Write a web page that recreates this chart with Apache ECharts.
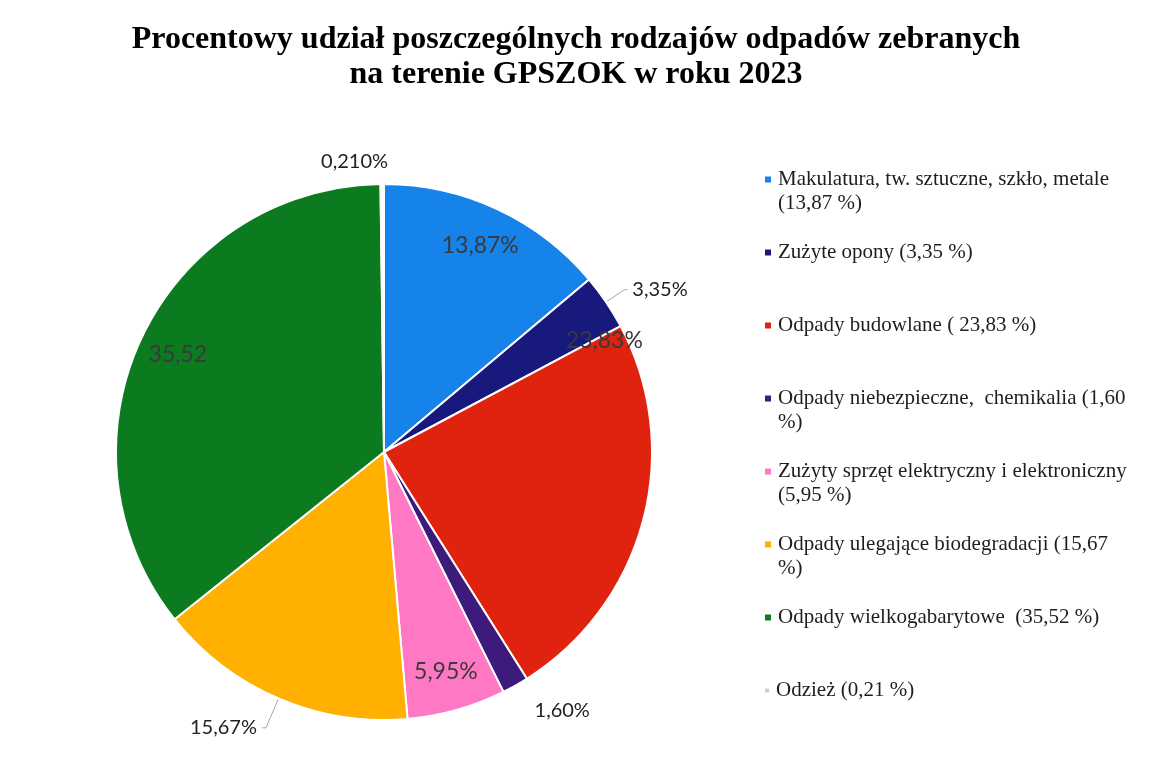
<!DOCTYPE html>
<html>
<head>
<meta charset="utf-8">
<script src="https://cdn.jsdelivr.net/npm/echarts@6/dist/echarts.min.js"></script>
<style>
  html, body { margin: 0; padding: 0; background: #fff; }
  #chart { width: 1152px; height: 768px; }
</style>
</head>
<body>
<div id="chart"></div>
<script>
var categories = [
    'Makulatura, tw. sztuczne, szkło, metale',
    'Zużyte opony',
    'Odpady budowlane',
    'Odpady niebezpieczne, chemikalia',
    'Zużyty sprzęt elektryczny i elektroniczny',
    'Odpady ulegające biodegradacji',
    'Odpady wielkogabarytowe',
    'Odzież'
];
var values = [13.87, 3.35, 23.83, 1.60, 5.95, 15.67, 35.52, 0.21];
// etykiety na wykresie (tak jak w oryginale)
var sliceLabels = ['13,87%', '3,35%', '23,83%', '1,60%', '5,95%', '15,67%', '35,52', '0,210%'];
// które etykiety są wewnątrz wycinka
var insideLabel = [true, false, true, false, true, false, true, false];
// opis w legendzie: pierwsza i druga linia
var legendLine1 = [
    'Makulatura, tw. sztuczne, szkło, metale',
    'Zużyte opony (3,35 %)',
    'Odpady budowlane ( 23,83 %)',
    'Odpady niebezpieczne,  chemikalia (1,60',
    'Zużyty sprzęt elektryczny i elektroniczny',
    'Odpady ulegające biodegradacji (15,67',
    'Odpady wielkogabarytowe  (35,52 %)',
    'Odzież (0,21 %)'
];
var legendLine2 = ['(13,87 %)', '', '', '%)', '(5,95 %)', '%)', '', ''];
var colors = ['#1583ea', '#18197c', '#df230f', '#3d1b7a', '#ff78c4', '#ffb000', '#0c7a1e', '#ffffff'];
var legendColors = ['#1583ea', '#18197c', '#df230f', '#3d1b7a', '#ff78c4', '#ffb000', '#0c7a1e', '#cfcfcf'];

var chart = echarts.init(document.getElementById('chart'));

var R = 268;
var center = [384, 452];

// dlugosci linii odniesienia dla etykiet zewnetrznych
var lineLen = { 1: [22, 3], 3: [29, 0], 5: [32, 4], 7: [22, 0] };
var lineShow = { 1: true, 3: false, 5: true, 7: false };

// dane głównego koła – etykiety zewnętrzne
var mainData = categories.map(function (name, i) {
    var item = {
        name: name,
        value: values[i],
        itemStyle: { color: colors[i] },
        label: { show: !insideLabel[i] },
        labelLine: { show: false }
    };
    if (lineLen[i]) {
        item.labelLine = { show: lineShow[i], length: lineLen[i][0], length2: lineLen[i][1] };
    }
    return item;
});

// przezroczysty pierścień tylko dla etykiet wewnętrznych
var ringData = categories.map(function (name, i) {
    return {
        name: name,
        value: values[i],
        label: { show: insideLabel[i] }
    };
});

var rich = {
    t: { fontFamily: 'Liberation Serif', fontSize: 21, color: '#1e1e1e', lineHeight: 24 },
    sp: { width: 7 },
    ind: { width: 13 }
};
legendColors.forEach(function (c, i) {
    rich['sq' + i] = { width: i === 7 ? 4 : 6, height: i === 7 ? 4 : 6, backgroundColor: c };
});

var option = {
    backgroundColor: '#ffffff',
    animation: false,
    title: {
        text: 'Procentowy udział poszczególnych rodzajów odpadów zebranych\nna terenie GPSZOK w roku 2023',
        left: 'center',
        top: 17,
        textStyle: {
            fontFamily: 'Liberation Serif',
            fontWeight: 'bold',
            fontSize: 32,
            lineHeight: 35,
            color: '#000'
        }
    },
    legend: {
        orient: 'vertical',
        left: 754,
        top: 164,
        itemWidth: 0,
        itemHeight: 0,
        itemGap: 28,
        selectedMode: false,
        data: categories,
        formatter: function (name) {
            var i = categories.indexOf(name);
            var txt = '{sq' + i + '| }{sp| }{t|' + legendLine1[i] + '}\n';
            txt += '{ind| }{t|' + (legendLine2[i] || ' ') + '}';
            return txt;
        },
        textStyle: { rich: rich }
    },
    series: [
        {
            type: 'pie',
            center: center,
            radius: [0, R],
            startAngle: 90,
            clockwise: true,
            avoidLabelOverlap: false,
            itemStyle: { borderColor: '#ffffff', borderWidth: 2 },
            label: {
                position: 'outside',
                fontFamily: 'Lato',
                fontSize: 20,
                color: '#222',
                formatter: function (p) { return sliceLabels[p.dataIndex]; }
            },
            labelLine: {
                length: 10,
                length2: 8,
                lineStyle: { color: '#a6a6a6', width: 1 }
            },
            labelLayout: function (p) {
                // 0,210% stoi w oryginale nieco w prawo
                if (p.dataIndex === 7) {
                    return { dx: 11 };
                }
            },
            emphasis: { disabled: true },
            data: mainData
        },
        {
            type: 'pie',
            center: center,
            radius: [182, R],
            startAngle: 90,
            clockwise: true,
            silent: true,
            avoidLabelOverlap: false,
            itemStyle: { color: 'rgba(0,0,0,0)', borderWidth: 0 },
            label: {
                position: 'inside',
                fontFamily: 'Lato',
                fontSize: 23,
                color: '#3a3a3a',
                formatter: function (p) { return sliceLabels[p.dataIndex]; }
            },
            labelLine: { show: false },
            labelLayout: function (p) {
                // w oryginale etykieta 23,83% przesunięta w górę, przy granicy z oponami
                if (p.dataIndex === 2) {
                    return { dy: -170 };
                }
            },
            emphasis: { disabled: true },
            data: ringData
        }
    ]
};

chart.setOption(option);
</script>
</body>
</html>
